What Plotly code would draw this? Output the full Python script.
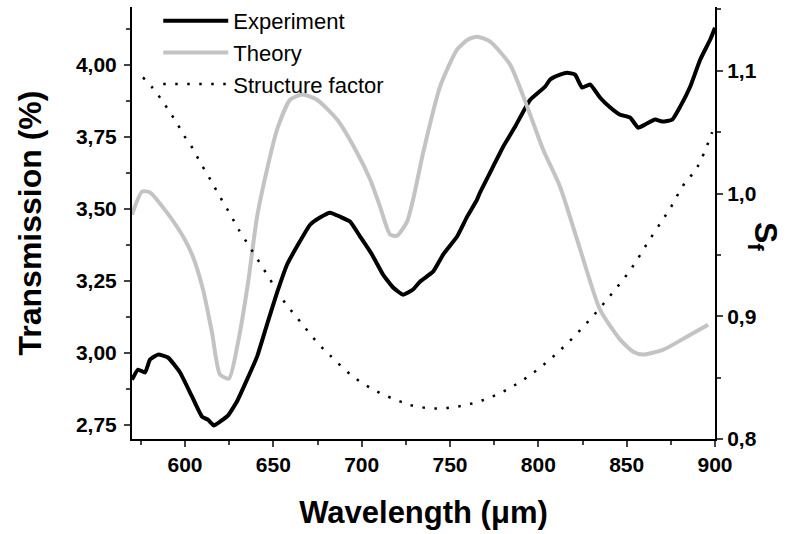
import plotly.graph_objects as go

# Experiment (left axis, %)
exp_wl = [570.0, 573.4, 577.4, 580.2, 584.7, 590.4, 597.2, 604.0, 609.6, 613.0, 616.4, 619.8,
          624.3, 629.4, 635.1, 640.8, 646.4, 652.1, 657.8, 664.0, 670.8, 676.4, 682.1, 687.8,
          693.4, 699.1, 705.9, 712.1, 717.8, 723.4, 729.1, 733.1, 740.4, 746.1, 754.0, 759.7,
          765.3, 767.0, 774.4, 780.1, 786.9, 795.4, 803.9, 806.7, 812.3, 816.3, 820.8, 824.8,
          829.3, 835.0, 840.7, 846.3, 852.0, 856.5, 860.5, 866.1, 870.1, 875.8, 880.3, 886.0,
          891.6, 897.3, 900.0]
exp_t = [2.906, 2.941, 2.931, 2.976, 2.993, 2.983, 2.931, 2.847, 2.778, 2.767, 2.747, 2.760,
         2.781, 2.830, 2.906, 2.986, 3.097, 3.208, 3.306, 3.375, 3.444, 3.469, 3.486, 3.472,
         3.455, 3.403, 3.340, 3.271, 3.226, 3.201, 3.219, 3.247, 3.281, 3.340, 3.403, 3.472,
         3.531, 3.556, 3.646, 3.715, 3.785, 3.878, 3.924, 3.948, 3.965, 3.972, 3.965, 3.920,
         3.931, 3.885, 3.851, 3.826, 3.816, 3.781, 3.792, 3.809, 3.802, 3.809, 3.854, 3.924,
         4.017, 4.087, 4.128]

# Theory (left axis, %)
th_wl = [570.0, 575.7, 580.2, 589.8, 598.9, 604.5, 610.2, 615.3, 619.8, 624.9, 630.0, 635.7,
         640.8, 646.4, 652.1, 659.5, 666.3, 674.7, 686.1, 697.4, 704.8, 710.4, 716.1, 720.0,
         725.7, 729.1, 734.8, 744.4, 754.0, 760.2, 765.3, 772.7, 784.0, 793.7, 802.7, 812.3,
         823.7, 834.9, 846.3, 853.7, 859.3, 870.7, 884.3, 896.1]
th_t = [3.479, 3.559, 3.556, 3.486, 3.403, 3.333, 3.219, 3.069, 2.924, 2.910, 3.035, 3.243,
        3.472, 3.635, 3.774, 3.878, 3.896, 3.878, 3.809, 3.694, 3.601, 3.507, 3.410, 3.406,
        3.455, 3.531, 3.694, 3.924, 4.052, 4.087, 4.097, 4.080, 4.000, 3.854, 3.705, 3.576,
        3.358, 3.149, 3.045, 3.003, 2.993, 3.010, 3.056, 3.097]

# Structure factor (right axis)
sf_wl = [576.2, 581.9, 587.0, 591.5, 595.5, 599.4, 604.0, 607.4, 611.3, 615.3, 618.7, 622.7,
         626.6, 630.0, 637.9, 646.4, 654.9, 665.1, 675.9, 682.1, 695.1, 708.7, 721.7, 728.5,
         741.6, 754.6, 768.2, 781.2, 794.2, 807.2, 819.7, 832.2, 843.5, 853.1, 861.6, 870.1,
         874.6, 882.0, 889.9, 898.4]
sf_v = [1.0946, 1.0857, 1.0759, 1.0661, 1.0572, 1.0474, 1.0376, 1.0286, 1.0188, 1.0091, 1.0001,
        0.9903, 0.9805, 0.9716, 0.9536, 0.9341, 0.9145, 0.8958, 0.8770, 0.8681, 0.8509, 0.8387,
        0.8306, 0.8273, 0.8249, 0.8265, 0.8314, 0.8395, 0.8509, 0.8656, 0.8827, 0.9023, 0.9218,
        0.9398, 0.9593, 0.9781, 0.9878, 1.0066, 1.0213, 1.0500]

x_ticks = [600, 650, 700, 750, 800, 850, 900]
left_ticks = [2.75, 3.00, 3.25, 3.50, 3.75, 4.00]
right_ticks = [0.8, 0.9, 1.0, 1.1]

FONT = "Liberation Sans, Arial, sans-serif"

fig = go.Figure()
fig.add_trace(go.Scatter(x=exp_wl, y=exp_t, name="Experiment", mode="lines",
                         line=dict(color="black", width=4, shape="spline", smoothing=0.4)))
fig.add_trace(go.Scatter(x=th_wl, y=th_t, name="Theory", mode="lines",
                         line=dict(color="#c3c3c3", width=4, shape="spline", smoothing=0.6)))
fig.add_trace(go.Scatter(x=sf_wl, y=sf_v, name="Structure factor", mode="lines", yaxis="y2",
                         line=dict(color="black", width=2.5, dash="2.5px,9.5px",
                                   shape="spline", smoothing=1.0)))

tickfont = dict(family=FONT, size=21, color="black", weight="bold")
titlefont = dict(family=FONT, size=31, color="black", weight="bold")

fig.update_layout(
    width=799, height=534,
    margin=dict(l=132, r=84, t=7, b=95, autoexpand=False),
    paper_bgcolor="white", plot_bgcolor="white",
    separators=",.",
    showlegend=True,
    legend=dict(x=0.045, y=1.0, xanchor="left", yanchor="top", yref="container",
                bgcolor="rgba(0,0,0,0)", font=dict(family=FONT, size=22, color="black"),
                itemwidth=65, tracegroupgap=0, itemsizing="trace"),
    xaxis=dict(range=[570, 900], tickvals=x_ticks, ticks="outside", ticklen=6, tickwidth=1.5,
               showline=True, linewidth=2, linecolor="black", showgrid=False, zeroline=False,
               tickfont=tickfont,
               minor=dict(ticks="outside", ticklen=4, tickwidth=1.5, dtick=25, tick0=575, showgrid=False),
               title=dict(text="Wavelength (μm)", font=titlefont, standoff=26)),
    yaxis=dict(range=[2.70, 4.20], tickvals=left_ticks, tickformat=".2f", ticks="outside", ticklen=6,
               tickwidth=1.5, showline=True, linewidth=2, linecolor="black", showgrid=False,
               zeroline=False, tickfont=tickfont, ticklabelstandoff=3,
               minor=dict(ticks="outside", ticklen=4, tickwidth=1.5, dtick=0.125, tick0=2.75, showgrid=False),
               title=dict(text="Transmission (%)", font=dict(family=FONT, size=32, color="black", weight="bold"),
                          standoff=25)),
    yaxis2=dict(range=[0.8, 1.152], tickvals=right_ticks, tickformat=".1f", overlaying="y", side="right",
                ticks="outside", ticklen=6, tickwidth=1.5, showline=True, linewidth=2, linecolor="black",
                showgrid=False, zeroline=False, tickfont=tickfont,
                minor=dict(ticks="outside", ticklen=4, tickwidth=1.5, dtick=0.05, tick0=0.8, showgrid=False)),
    annotations=[dict(text="S<sub>f</sub>", xref="paper", yref="paper", x=1.0, y=0.47,
                      xshift=48, xanchor="center", yanchor="middle", showarrow=False, textangle=90,
                      font=dict(family=FONT, size=32, color="black", weight="bold"))],
)

fig.write_html("out.html")
